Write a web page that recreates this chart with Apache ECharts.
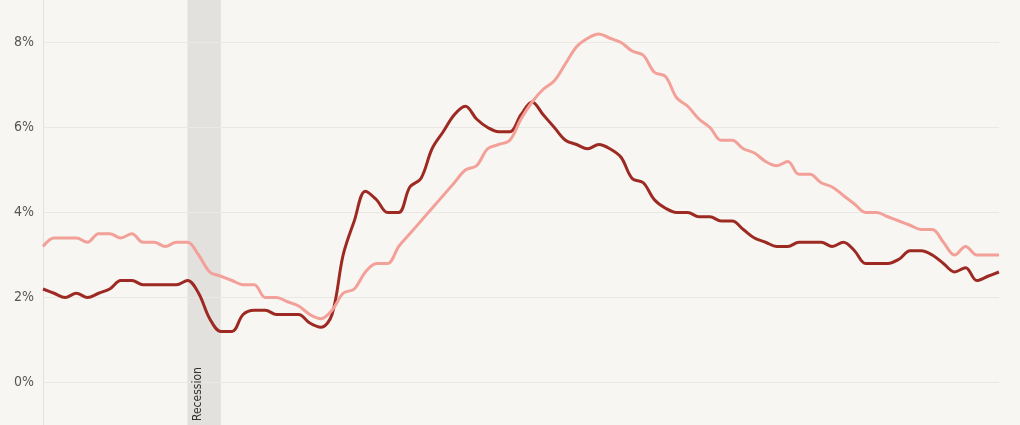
<!DOCTYPE html>
<html>
<head>
<meta charset="utf-8">
<script src="https://cdn.jsdelivr.net/npm/echarts@6/dist/echarts.min.js"></script>
<style>
html,body{margin:0;padding:0;background:#f8f6f3;}
#chart{width:1020px;height:425px;}
</style>
</head>
<body>
<div id="chart"></div>
<script>
// Monthly, Jan 2019 – Mar 2026
const months = [];
(function(){
  const names = ['Jan','Feb','Mar','Apr','May','Jun','Jul','Aug','Sep','Oct','Nov','Dec'];
  for (let y = 2019; y <= 2026; y++) {
    for (let m = 0; m < 12; m++) {
      if (y === 2026 && m > 2) break;
      months.push(names[m] + ' ' + y);
    }
  }
})();

const darkSeries = [
  2.2, 2.1, 2.0, 2.1, 2.0, 2.1, 2.2, 2.4, 2.4, 2.3, 2.3, 2.3, 2.3, 2.4,
  2.1, 1.5, 1.2, 1.2, 1.6, 1.7, 1.7, 1.6, 1.6, 1.6, 1.4, 1.3, 1.6, 3.0,
  3.8, 4.5, 4.3, 4.0, 4.0, 4.6, 4.8, 5.5, 5.9, 6.3, 6.5, 6.2, 6.0,
  5.9, 5.9, 6.3, 6.6, 6.3, 6.0, 5.7, 5.6, 5.5, 5.6,
  5.5, 5.3, 4.8, 4.7, 4.3, 4.1, 4.0, 4.0, 3.9, 3.9,
  3.8, 3.8, 3.6, 3.4, 3.3, 3.2, 3.2, 3.3, 3.3, 3.3,
  3.2, 3.3, 3.1, 2.8, 2.8, 2.8, 2.9, 3.1, 3.1, 3.0,
  2.8, 2.6, 2.7, 2.4, 2.5, 2.6
];

const pinkSeries = [
  3.2, 3.4, 3.4, 3.4, 3.3, 3.5, 3.5, 3.4, 3.5, 3.3, 3.3, 3.2, 3.3, 3.3,
  3.0, 2.6, 2.5, 2.4, 2.3, 2.3, 2.0, 2.0, 1.9, 1.8, 1.6, 1.5, 1.7, 2.1,
  2.2, 2.6, 2.8, 2.8, 3.2, 3.5, 3.8, 4.1, 4.4, 4.7, 5.0, 5.1, 5.5,
  5.6, 5.7, 6.2, 6.6, 6.9, 7.1, 7.5, 7.9, 8.1, 8.2,
  8.1, 8.0, 7.8, 7.7, 7.3, 7.2, 6.7, 6.5, 6.2, 6.0,
  5.7, 5.7, 5.5, 5.4, 5.2, 5.1, 5.2, 4.9, 4.9, 4.7,
  4.6, 4.4, 4.2, 4.0, 4.0, 3.9, 3.8, 3.7, 3.6, 3.6,
  3.3, 3.0, 3.2, 3.0, 3.0, 3.0
];

const yMin = -1;
const yMax = 9;
const yTicks = [0, 2, 4, 6, 8];
const recessionStart = 'Feb 2020';
const recessionEnd = 'May 2020';
const recessionLabel = 'Recession';

const chart = echarts.init(document.getElementById('chart'), null, {renderer: 'canvas'});
const font = "'Liberation Sans Narrow', 'DejaVu Sans Condensed', 'Roboto', sans-serif";

chart.setOption({
  backgroundColor: '#f8f6f3',
  animation: false,
  grid: {left: 43, right: 21, top: 0, bottom: 0},
  xAxis: {
    type: 'category',
    data: months,
    boundaryGap: false,
    axisLine: {show: false},
    axisTick: {show: false},
    axisLabel: {show: false},
    splitLine: {show: false}
  },
  yAxis: {
    type: 'value',
    min: yMin,
    max: yMax,
    interval: 1,
    axisLine: {show: true, lineStyle: {color: '#e2e0dc', width: 1}},
    axisTick: {show: false},
    axisLabel: {
      color: '#555',
      fontSize: 14,
      fontFamily: font,
      margin: 9,
      formatter: v => (yTicks.indexOf(v) >= 0 ? v + '%' : '')
    },
    splitLine: {show: false}
  },
  series: [
    {
      name: 'background',
      type: 'line',
      data: [],
      z: 1,
      silent: true,
      markArea: {
        silent: true,
        z: 1,
        itemStyle: {color: '#e3e1de'},
        label: {
          show: true,
          position: 'insideBottomLeft',
          rotate: 90,
          align: 'left',
          verticalAlign: 'top',
          distance: 4,
          color: '#333',
          fontSize: 12,
          fontFamily: font
        },
        data: [[
          {name: recessionLabel, xAxis: recessionStart, yAxis: yMin},
          {xAxis: recessionEnd, yAxis: yMax}
        ]]
      },
      markLine: {
        silent: true,
        z: 1,
        symbol: 'none',
        label: {show: false},
        lineStyle: {color: '#ebe8e4', width: 1, type: 'solid'},
        data: yTicks.map(v => ({yAxis: v}))
      }
    },
    {
      name: 'dark',
      type: 'line',
      data: darkSeries,
      smooth: 0.35,
      symbol: 'none',
      lineStyle: {color: '#9d2a22', width: 3},
      z: 3
    },
    {
      name: 'pink',
      type: 'line',
      data: pinkSeries,
      smooth: 0.35,
      symbol: 'none',
      lineStyle: {color: '#f2a098', width: 3},
      z: 4
    }
  ]
});
</script>
</body>
</html>
